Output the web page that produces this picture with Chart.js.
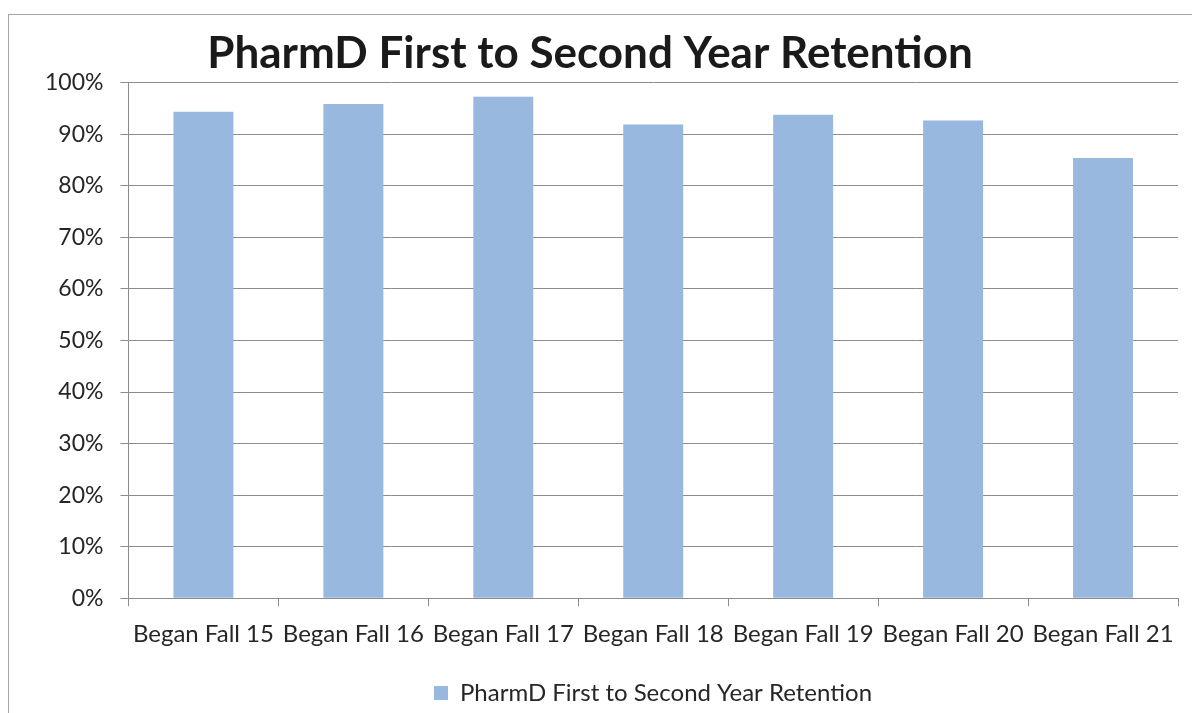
<!DOCTYPE html>
<html>
<head>
<meta charset="utf-8">
<script src="https://cdn.jsdelivr.net/npm/chart.js@4.4.1/dist/chart.umd.min.js"></script>
<style>
  html, body { margin: 0; padding: 0; background: #fff; overflow: hidden; }
  #frame { position: absolute; left: 8px; top: 14px; width: 1400px; height: 900px; border: 1px solid #a6a6a6; }
  #wrap { position: absolute; left: 0; top: 0; width: 1192px; height: 716px; }
</style>
</head>
<body>
<div id="frame"></div>
<div id="wrap"><canvas id="retentionChart"></canvas></div>
<script>
// Retention values (percent)
const cohorts = ['Began Fall 15', 'Began Fall 16', 'Began Fall 17', 'Began Fall 18', 'Began Fall 19', 'Began Fall 20', 'Began Fall 21'];
const retention = [94.4, 95.9, 97.3, 91.9, 93.8, 92.7, 85.4];
const seriesName = 'PharmD First to Second Year Retention';

// nudge title / legend sideways so they sit where Excel put them
const nudgeBoxes = {
    id: 'nudgeBoxes',
    afterLayout(chart) {
        if (chart.titleBlock) {
            chart.titleBlock.left -= 13;
            chart.titleBlock.right -= 13;
        }
        if (chart.legend) {
            chart.legend.left += 50;
            chart.legend.right += 50;
        }
    }
};

document.addEventListener('DOMContentLoaded', () => {
    const ctx = document.getElementById('retentionChart');
    const font = 'Lato, "Open Sans", sans-serif';

    new Chart(ctx, {
        type: 'bar',
        data: {
            labels: cohorts,
            datasets: [{
                label: seriesName,
                data: retention,
                backgroundColor: '#98b8df',
                borderWidth: 0,
                barPercentage: 0.4,
                categoryPercentage: 1.0
            }]
        },
        options: {
            responsive: true,
            maintainAspectRatio: false,
            animation: false,
            layout: { padding: { left: 28, right: 14, top: 20, bottom: 1 } },
            scales: {
                y: {
                    min: 0,
                    max: 100,
                    ticks: {
                        stepSize: 10,
                        color: '#262626',
                        font: { family: font, size: 23 },
                        padding: 17,
                        callback: v => v + '%'
                    },
                    grid: { color: '#8c8c8c', tickLength: 8, lineWidth: 1 },
                    border: { color: '#8c8c8c' }
                },
                x: {
                    ticks: {
                        color: '#262626',
                        font: { family: font, size: 24 },
                        padding: 14,
                        maxRotation: 0
                    },
                    grid: { drawOnChartArea: false, offset: true, tickLength: 8, color: '#8c8c8c' },
                    border: { color: '#8c8c8c' }
                }
            },
            plugins: {
                title: {
                    display: true,
                    text: seriesName,
                    color: '#1a1a1a',
                    font: { family: font, size: 44, weight: 'bold' },
                    padding: { top: 7, bottom: 3 }
                },
                legend: {
                    position: 'bottom',
                    labels: {
                        color: '#262626',
                        font: { family: font, size: 24 },
                        boxWidth: 14,
                        boxHeight: 14,
                        padding: 18
                    }
                },
                tooltip: {
                    callbacks: {
                        label: function(context) {
                            return `${context.dataset.label}: ${context.raw}%`;
                        }
                    }
                }
            }
        },
        plugins: [nudgeBoxes]
    });
});
</script>
</body>
</html>
